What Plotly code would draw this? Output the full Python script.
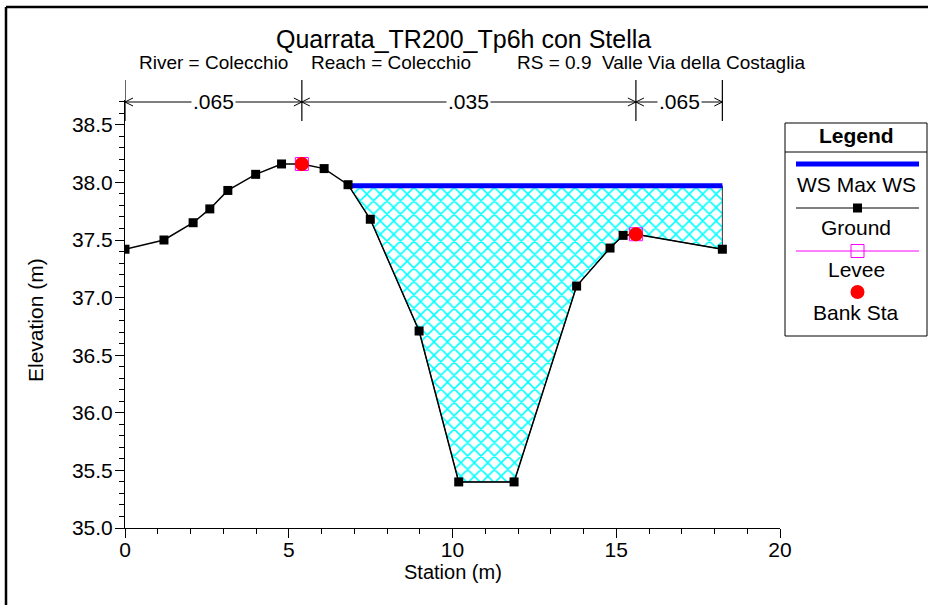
import plotly.graph_objects as go

# ---------------- data ----------------
station = [0.0, 1.19, 2.08, 2.59, 3.14, 3.99, 4.78, 5.40, 6.08, 6.81, 7.49, 8.98,
           10.19, 11.88, 13.79, 14.81, 15.21, 15.60, 18.24]
elevation = [37.42, 37.50, 37.65, 37.77, 37.93, 38.07, 38.16, 38.16, 38.12, 37.98, 37.68, 36.71,
             35.40, 35.40, 37.10, 37.43, 37.54, 37.55, 37.42]
ws_elev = 37.97
bank_sta = [5.40, 15.60]
bank_elev = [38.16, 37.55]
levee_sta = [5.40, 15.60]
levee_elev = [38.16, 37.55]
n_breaks = [0.0, 5.40, 15.60, 18.24]
n_values = [".065", ".035", ".065"]

title_text = "Quarrata_TR200_Tp6h con Stella"
subtitle_parts = ["River = Colecchio", "Reach = Colecchio", "RS = 0.9", "Valle Via della Costaglia"]
subtitle_px = [138, 310, 516, 807]
subtitle_anchor = ["left", "left", "left", "right"]

# ---------------- geometry helpers ----------------
W, H = 928, 605
L, R, T, B = 125, 148, 100, 77
PW, PH = W - L - R, H - T - B
font = "Liberation Sans, Arial, Helvetica, sans-serif"


def px_x(p):
    return (p - L) / PW


def px_y(p):
    return (H - B - p) / PH


# ---------------- water surface polygon ----------------
i_start = None
for i in range(len(station) - 1):
    if elevation[i] >= ws_elev > elevation[i + 1]:
        i_start = i
        break
x0, y0, x1, y1 = station[i_start], elevation[i_start], station[i_start + 1], elevation[i_start + 1]
x_int = x0 + (y0 - ws_elev) / (y0 - y1) * (x1 - x0)
x_end = station[-1]
poly_x = [x_int] + station[i_start + 1:] + [x_end, x_int]
poly_y = [ws_elev] + elevation[i_start + 1:] + [ws_elev, ws_elev]

fig = go.Figure()
fig.add_trace(go.Scatter(
    x=poly_x, y=poly_y, mode="lines", fill="toself",
    fillcolor="rgba(0,0,0,0)",
    fillpattern=dict(shape="x", fgcolor="#00FFFF", bgcolor="white", size=9.5,
                     solidity=0.3, fgopacity=1),
    line=dict(color="#333333", width=1), hoverinfo="skip", showlegend=False))
fig.add_trace(go.Scatter(
    x=[x_int, x_end], y=[ws_elev, ws_elev], mode="lines",
    line=dict(color="#0000FF", width=5), showlegend=False))
fig.add_trace(go.Scatter(
    x=station, y=elevation, mode="lines+markers",
    line=dict(color="black", width=1.5),
    marker=dict(symbol="square", size=9, color="black"), showlegend=False))
fig.add_trace(go.Scatter(
    x=levee_sta, y=levee_elev, mode="markers",
    marker=dict(symbol="square-open", size=13, color="#FF00FF", line=dict(width=1)),
    showlegend=False))
fig.add_trace(go.Scatter(
    x=bank_sta, y=bank_elev, mode="markers",
    marker=dict(symbol="circle", size=14, color="#FF0000"), showlegend=False))

shapes = []
annotations = []

# ---------------- Manning's n bar ----------------
y_bar = px_y(102)
chev_w = 8 / PW * 20.0  # data units
chev_h = 4 / PH
for xb in n_breaks:
    shapes.append(dict(type="line", xref="x", yref="paper", x0=xb, x1=xb,
                       y0=px_y(121), y1=px_y(80), line=dict(color="black", width=1.2)))
for k in range(len(n_values)):
    xa, xb = n_breaks[k], n_breaks[k + 1]
    shapes.append(dict(type="line", xref="x", yref="paper", x0=xa, x1=xb,
                       y0=y_bar, y1=y_bar, line=dict(color="black", width=1)))
    shapes.append(dict(type="path", xref="x", yref="paper",
                       path=f"M {xa + chev_w},{y_bar + chev_h} L {xa},{y_bar} L {xa + chev_w},{y_bar - chev_h}",
                       line=dict(color="black", width=1)))
    shapes.append(dict(type="path", xref="x", yref="paper",
                       path=f"M {xb - chev_w},{y_bar + chev_h} L {xb},{y_bar} L {xb - chev_w},{y_bar - chev_h}",
                       line=dict(color="black", width=1)))
    annotations.append(dict(x=(xa + xb) / 2, y=y_bar, xref="x", yref="paper", text=n_values[k],
                            showarrow=False, bgcolor="white", borderpad=1,
                            font=dict(family=font, size=21, color="black"),
                            xanchor="center", yanchor="middle"))

# ---------------- titles ----------------
annotations.append(dict(x=px_x(463.5), y=px_y(39), xref="paper", yref="paper", text=title_text,
                        showarrow=False, font=dict(family=font, size=25, color="black"),
                        xanchor="center", yanchor="middle", borderpad=0))
for txt, p, anc in zip(subtitle_parts, subtitle_px, subtitle_anchor):
    annotations.append(dict(x=px_x(p), y=px_y(63), xref="paper", yref="paper", text=txt,
                            showarrow=False, font=dict(family=font, size=19, color="black"),
                            xanchor=anc, yanchor="middle", borderpad=0))
annotations.append(dict(x=px_x(35), y=px_y(320), xref="paper", yref="paper", text="Elevation (m)",
                        textangle=-90, showarrow=False, font=dict(family=font, size=21, color="black"),
                        xanchor="center", yanchor="middle"))
annotations.append(dict(x=0.5, y=px_y(572), xref="paper", yref="paper", text="Station (m)",
                        showarrow=False, font=dict(family=font, size=20, color="black"),
                        xanchor="center", yanchor="middle", borderpad=0))

# ---------------- outer frame ----------------
shapes.append(dict(type="line", xref="paper", yref="paper", x0=px_x(6), x1=px_x(940),
                    y0=px_y(7), y1=px_y(7), line=dict(color="black", width=2.5)))
shapes.append(dict(type="line", xref="paper", yref="paper", x0=px_x(6), x1=px_x(6),
                    y0=px_y(7), y1=px_y(620), line=dict(color="black", width=2.5)))

# ---------------- legend (drawn) ----------------
lx0, lx1 = px_x(785), px_x(927)
shapes.append(dict(type="rect", xref="paper", yref="paper", x0=lx0, x1=lx1,
                    y0=px_y(336), y1=px_y(123), line=dict(color="black", width=1), fillcolor="white",
                    layer="above"))
shapes.append(dict(type="line", xref="paper", yref="paper", x0=lx0, x1=lx1,
                    y0=px_y(152), y1=px_y(152), line=dict(color="black", width=1)))
sx0, sx1, sxc = px_x(796), px_x(919), px_x(857.5)
shapes.append(dict(type="line", xref="paper", yref="paper", x0=sx0, x1=sx1,
                    y0=px_y(164), y1=px_y(164), line=dict(color="#0000FF", width=5)))
shapes.append(dict(type="line", xref="paper", yref="paper", x0=sx0, x1=sx1,
                    y0=px_y(208), y1=px_y(208), line=dict(color="black", width=1.2)))
shapes.append(dict(type="rect", xref="paper", yref="paper", xsizemode="pixel", ysizemode="pixel",
                    xanchor=sxc, yanchor=px_y(208), x0=-4.5, x1=4.5, y0=-4.5, y1=4.5,
                    fillcolor="black", line=dict(width=0)))
shapes.append(dict(type="line", xref="paper", yref="paper", x0=sx0, x1=sx1,
                    y0=px_y(251), y1=px_y(251), line=dict(color="#FF00FF", width=1)))
shapes.append(dict(type="rect", xref="paper", yref="paper", xsizemode="pixel", ysizemode="pixel",
                    xanchor=sxc, yanchor=px_y(251), x0=-6.5, x1=6.5, y0=-6.5, y1=6.5,
                    fillcolor="rgba(0,0,0,0)", line=dict(color="#FF00FF", width=1)))
shapes.append(dict(type="circle", xref="paper", yref="paper", xsizemode="pixel", ysizemode="pixel",
                    xanchor=sxc, yanchor=px_y(292), x0=-7, x1=7, y0=-7, y1=7,
                    fillcolor="#FF0000", line=dict(width=0)))
leg_items = [("<b>Legend</b>", 135), ("WS Max WS", 184), ("Ground", 227), ("Levee", 269), ("Bank Sta", 312)]
for txt, p in leg_items:
    annotations.append(dict(x=px_x(856), y=px_y(p), xref="paper", yref="paper", text=txt,
                            showarrow=False, font=dict(family=font, size=21, color="black"),
                            xanchor="center", yanchor="middle"))

fig.update_layout(
    width=W, height=H, autosize=False,
    margin=dict(l=L, r=R, t=T, b=B, pad=0),
    paper_bgcolor="white", plot_bgcolor="white",
    showlegend=False,
    shapes=shapes, annotations=annotations,
    font=dict(family=font, size=21, color="black"),
    xaxis=dict(range=[0, 20], tick0=0, dtick=5, ticks="outside", ticklen=9, tickwidth=1,
               tickcolor="black", showline=True, linecolor="black", linewidth=1,
               showgrid=False, zeroline=False, tickfont=dict(family=font, size=21),
               ticklabelstandoff=-6,
               minor=dict(dtick=1, ticks="outside", ticklen=5, tickcolor="black", showgrid=False)),
    yaxis=dict(range=[35, 35 + PH / 115.2], tick0=35, dtick=0.5, tickformat=".1f",
               ticks="outside", ticklen=9, tickwidth=1,
               tickcolor="black", showline=True, linecolor="black", linewidth=1,
               showgrid=False, zeroline=False, tickfont=dict(family=font, size=21),
               ticklabelstandoff=-2,
               minor=dict(dtick=0.1, ticks="outside", ticklen=5, tickcolor="black", showgrid=False)),
)

fig.write_html("out.html", config={"displayModeBar": False},
               post_script="document.body.style.margin='0px';document.body.style.overflow='hidden';")
